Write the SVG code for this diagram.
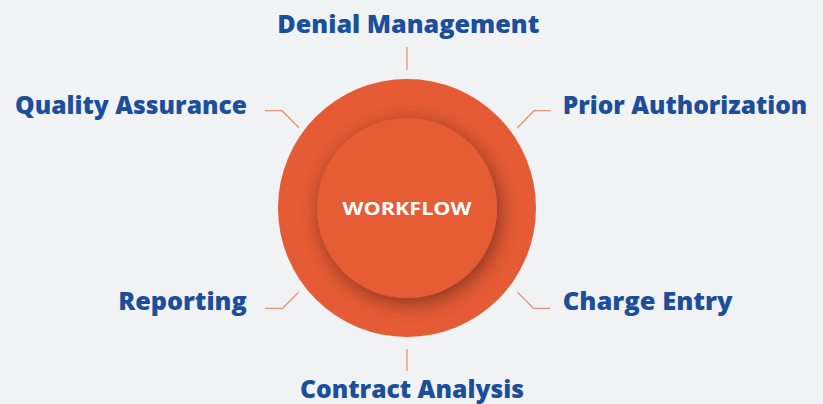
<svg xmlns="http://www.w3.org/2000/svg" width="823" height="404" viewBox="0 0 823 404">
<defs>
<style>
.lbl{font-family:"Open Sans","Liberation Sans",sans-serif;font-weight:800;font-size:24px;fill:#1B4F9C}
.ctr{font-family:"Open Sans","Liberation Sans",sans-serif;font-weight:700;font-size:18.5px;fill:#FFFFFF}
.conn{fill:none;stroke:#E8937A;stroke-width:1.3}
</style>
<filter id="sh" x="-30%" y="-30%" width="160%" height="160%">
<feGaussianBlur in="SourceAlpha" stdDeviation="10"/>
<feOffset dx="3" dy="5" result="b"/>
<feComponentTransfer><feFuncA type="linear" slope="0.42"/></feComponentTransfer>
<feMerge><feMergeNode/><feMergeNode in="SourceGraphic"/></feMerge>
</filter>
<clipPath id="outerClip"><circle cx="407" cy="208" r="129"/></clipPath>
</defs>
<rect width="823" height="404" fill="#F1F2F4"/>
<g id="hub">
<circle cx="407" cy="208" r="129" fill="#E55B35"/>
<g clip-path="url(#outerClip)">
<circle cx="407" cy="208" r="90" fill="#E55B35" filter="url(#sh)"/>
</g>
<text class="ctr" x="407" y="215" text-anchor="middle" textLength="129" lengthAdjust="spacingAndGlyphs">WORKFLOW</text>
</g>
<g id="connectors">
<path class="conn" d="M407 47 V70"/>
<path class="conn" d="M407 349 V371"/>
<path class="conn" d="M265 110.7 H282 L299 127.7"/>
<path class="conn" d="M550.7 110.7 H534 L517.5 127.7"/>
<path class="conn" d="M265 308.3 H282.5 L298.5 292.3"/>
<path class="conn" d="M550 308.3 H533.5 L517.5 292.3"/>
</g>
<g id="denial-management"><text class="lbl" x="277.3" y="33.3" textLength="262" lengthAdjust="spacingAndGlyphs">Denial Management</text></g>
<g id="quality-assurance"><text class="lbl" x="15" y="114.3" textLength="232" lengthAdjust="spacingAndGlyphs">Quality Assurance</text></g>
<g id="prior-authorization"><text class="lbl" x="562.7" y="114.3" textLength="244.6" lengthAdjust="spacingAndGlyphs">Prior Authorization</text></g>
<g id="reporting"><text class="lbl" x="118.3" y="310" textLength="128.4" lengthAdjust="spacingAndGlyphs">Reporting</text></g>
<g id="charge-entry"><text class="lbl" x="562.7" y="310" textLength="170" lengthAdjust="spacingAndGlyphs">Charge Entry</text></g>
<g id="contract-analysis"><text class="lbl" x="300" y="397.5" textLength="224" lengthAdjust="spacingAndGlyphs">Contract Analysis</text></g>
</svg>
